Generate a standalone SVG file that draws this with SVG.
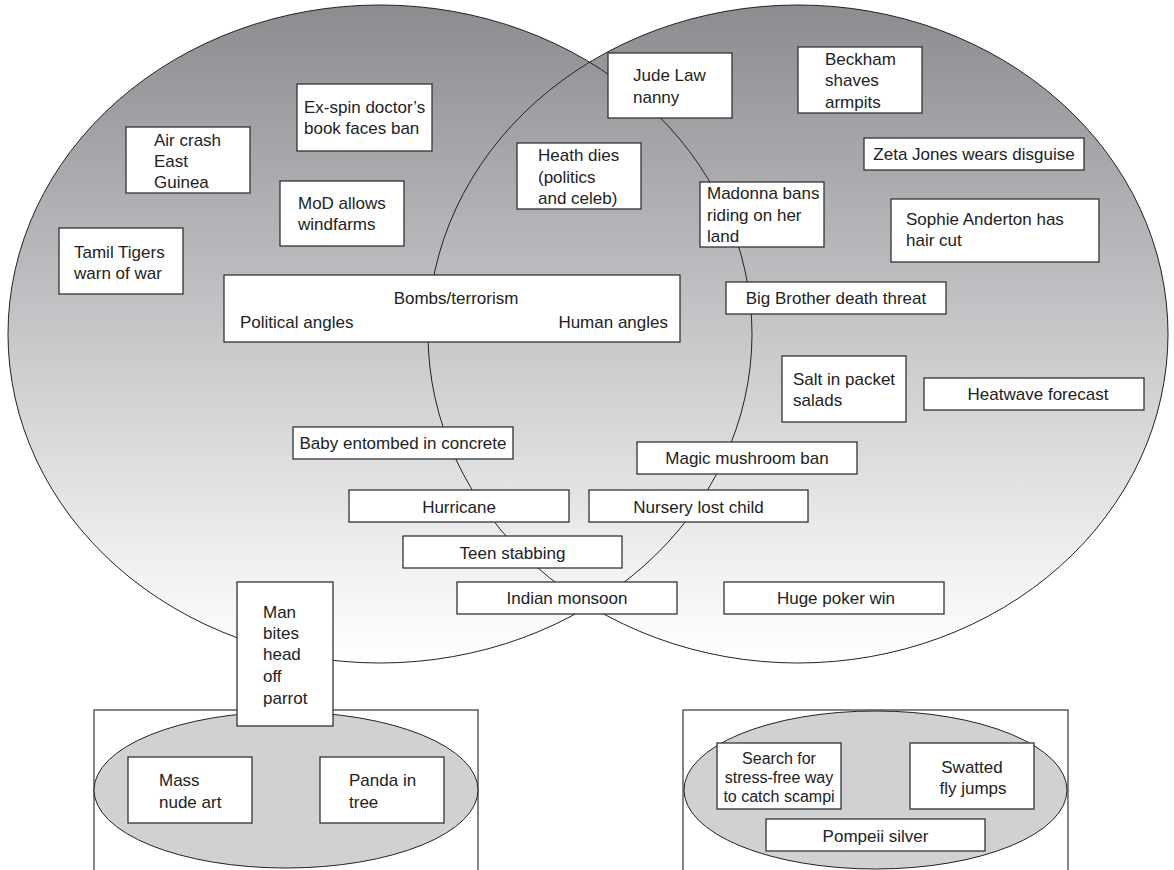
<svg xmlns="http://www.w3.org/2000/svg" width="1174" height="870" viewBox="0 0 1174 870">
<defs>
<linearGradient id="g" gradientUnits="userSpaceOnUse" x1="0" y1="5" x2="0" y2="663">
<stop offset="0" stop-color="#8b8c90"/>
<stop offset="0.5" stop-color="#c6c7c9"/>
<stop offset="0.85" stop-color="#f0f0f1"/>
<stop offset="1" stop-color="#ffffff"/>
</linearGradient>
<style>
.big{fill:url(#g);stroke:none}
.ol{fill:none;stroke:#222;stroke-width:1}
.frame{fill:#fff;stroke:#333;stroke-width:1.2}
.sub{fill:#d0d1d3;stroke:#222;stroke-width:1}
.b{fill:#fff;stroke:#333;stroke-width:1.3}
text{font-family:"Liberation Sans",Arial,sans-serif;font-size:17px;fill:#222}
.c{text-anchor:middle}
.e{text-anchor:end}
.s{font-size:16px}
</style>
</defs>
<rect x="0" y="0" width="1174" height="870" fill="#fff"/>
<g id="venn">
<ellipse class="big" cx="380" cy="334" rx="372" ry="329"/>
<ellipse class="big" cx="798" cy="334" rx="370" ry="329"/>
<ellipse class="ol" cx="380" cy="334" rx="372" ry="329"/>
<ellipse class="ol" cx="798" cy="334" rx="370" ry="329"/>
</g>
<g id="frame-left">
<rect class="frame" x="94" y="710" width="384" height="170"/>
<ellipse class="sub" cx="286" cy="790" rx="192" ry="78"/>
</g>
<g id="frame-right">
<rect class="frame" x="683" y="710" width="385" height="170"/>
<ellipse class="sub" cx="875.5" cy="790" rx="191.5" ry="79"/>
</g>
<g id="connectors"></g>
<g id="n-exspin"><rect class="b" x="297" y="84" width="135" height="67"/><text x="304" y="113">Ex-spin doctor’s</text><text x="304" y="134">book faces ban</text></g>
<g id="n-aircrash"><rect class="b" x="126" y="127" width="124" height="66"/><text x="154" y="146">Air crash</text><text x="154" y="167">East</text><text x="154" y="188">Guinea</text></g>
<g id="n-mod"><rect class="b" x="280" y="181" width="124" height="65"/><text x="298" y="209">MoD allows</text><text x="298" y="230">windfarms</text></g>
<g id="n-tamil"><rect class="b" x="59" y="228" width="124" height="66"/><text x="74" y="258">Tamil Tigers</text><text x="74" y="279">warn of war</text></g>
<g id="n-bombs"><rect class="b" x="224" y="275" width="456" height="67"/><text x="456" y="304" class="c">Bombs/terrorism</text><text x="240" y="328">Political angles</text><text x="668" y="328" class="e">Human angles</text></g>
<g id="n-heath"><rect class="b" x="517" y="143" width="124" height="66"/><text x="538" y="161">Heath dies</text><text x="538" y="183">(politics</text><text x="538" y="204">and celeb)</text></g>
<g id="n-jude"><rect class="b" x="608" y="53" width="124" height="65"/><text x="633" y="81">Jude Law</text><text x="633" y="103">nanny</text></g>
<g id="n-beckham"><rect class="b" x="798" y="47" width="124" height="66"/><text x="825" y="65">Beckham</text><text x="825" y="86">shaves</text><text x="825" y="108">armpits</text></g>
<g id="n-zeta"><rect class="b" x="864" y="138" width="220" height="32"/><text x="974" y="160" class="c">Zeta Jones wears disguise</text></g>
<g id="n-madonna"><rect class="b" x="700" y="182" width="124" height="65"/><text x="707" y="199">Madonna bans</text><text x="707" y="221">riding on her</text><text x="707" y="242">land</text></g>
<g id="n-sophie"><rect class="b" x="891" y="199" width="208" height="63"/><text x="906" y="225">Sophie Anderton has</text><text x="906" y="246">hair cut</text></g>
<g id="n-bigbrother"><rect class="b" x="726" y="282" width="220" height="32"/><text x="836" y="304" class="c">Big Brother death threat</text></g>
<g id="n-salt"><rect class="b" x="782" y="356" width="124" height="66"/><text x="793" y="385">Salt in packet</text><text x="793" y="406">salads</text></g>
<g id="n-heatwave"><rect class="b" x="924" y="378" width="220" height="32"/><text x="1038" y="400" class="c">Heatwave forecast</text></g>
<g id="n-baby"><rect class="b" x="293" y="427" width="220" height="32"/><text x="403" y="449" class="c">Baby entombed in concrete</text></g>
<g id="n-magic"><rect class="b" x="637" y="442" width="220" height="32"/><text x="747" y="464" class="c">Magic mushroom ban</text></g>
<g id="n-hurricane"><rect class="b" x="349" y="490" width="220" height="32"/><text x="459" y="513" class="c">Hurricane</text></g>
<g id="n-nursery"><rect class="b" x="589" y="490" width="219" height="32"/><text x="698.5" y="513" class="c">Nursery lost child</text></g>
<g id="n-teen"><rect class="b" x="403" y="536" width="219" height="32"/><text x="512.5" y="559" class="c">Teen stabbing</text></g>
<g id="n-monsoon"><rect class="b" x="457" y="582" width="220" height="32"/><text x="567" y="604" class="c">Indian monsoon</text></g>
<g id="n-poker"><rect class="b" x="724" y="582" width="220" height="32"/><text x="836" y="604" class="c">Huge poker win</text></g>
<g id="n-parrot"><rect class="b" x="237" y="582" width="96" height="144"/><text x="263" y="618">Man</text><text x="263" y="639">bites</text><text x="263" y="660">head</text><text x="263" y="682">off</text><text x="263" y="704">parrot</text></g>
<g id="n-mass"><rect class="b" x="128" y="757" width="124" height="66"/><text x="159" y="786">Mass</text><text x="159" y="808">nude art</text></g>
<g id="n-panda"><rect class="b" x="320" y="757" width="124" height="66"/><text x="349" y="786">Panda in</text><text x="349" y="808">tree</text></g>
<g id="n-scampi"><rect class="b" x="717" y="743" width="124" height="66"/><text x="779" y="764" class="c s">Search for</text><text x="779" y="783" class="c s">stress-free way</text><text x="779" y="802" class="c s">to catch scampi</text></g>
<g id="n-swatted"><rect class="b" x="910" y="743" width="124" height="66"/><text x="972" y="773" class="c">Swatted</text><text x="973" y="794" class="c">fly jumps</text></g>
<g id="n-pompeii"><rect class="b" x="766" y="819" width="219" height="32"/><text x="875.5" y="842" class="c">Pompeii silver</text></g>
</svg>
